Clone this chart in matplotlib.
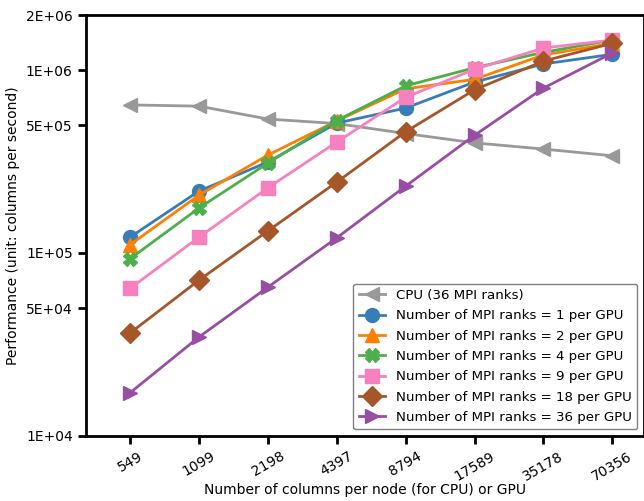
import numpy as np
import matplotlib
matplotlib.use("Agg")
import matplotlib.pyplot as plt
from matplotlib.ticker import FixedLocator, FixedFormatter, NullLocator

# Data
columns = ["549", "1099", "2198", "4397", "8794", "17589", "35178", "70356"]
cpu_36 = [6.45e5, 6.35e5, 5.4e5, 5.1e5, 4.5e5, 4.0e5, 3.7e5, 3.4e5]
gpu_1 = [1.22e5, 2.18e5, 3.14e5, 5.13e5, 6.2e5, 8.6e5, 1.08e6, 1.22e6]
gpu_2 = [1.11e5, 2.07e5, 3.43e5, 5.27e5, 7.9e5, 8.9e5, 1.21e6, 1.40e6]
gpu_4 = [9.3e4, 1.76e5, 3.1e5, 5.3e5, 8.2e5, 1.03e6, 1.25e6, 1.46e6]
gpu_9 = [6.4e4, 1.22e5, 2.27e5, 4.04e5, 7.1e5, 1.01e6, 1.32e6, 1.46e6]
gpu_18 = [3.65e4, 7.1e4, 1.32e5, 2.44e5, 4.6e5, 7.8e5, 1.12e6, 1.40e6]
gpu_36 = [1.72e4, 3.47e4, 6.5e4, 1.21e5, 2.32e5, 4.4e5, 7.97e5, 1.24e6]

series = [
    ("CPU (36 MPI ranks)", cpu_36, "#999999", "<"),
    ("Number of MPI ranks = 1 per GPU", gpu_1, "#377eb8", "o"),
    ("Number of MPI ranks = 2 per GPU", gpu_2, "#ff7f00", "^"),
    ("Number of MPI ranks = 4 per GPU", gpu_4, "#4daf4a", "X"),
    ("Number of MPI ranks = 9 per GPU", gpu_9, "#f781bf", "s"),
    ("Number of MPI ranks = 18 per GPU", gpu_18, "#a65628", "D"),
    ("Number of MPI ranks = 36 per GPU", gpu_36, "#984ea3", ">"),
]

fig = plt.figure(figsize=(6.44, 5.01), dpi=100)
ax = fig.add_axes([0.1335, 0.130, 0.8665, 0.840])

x = np.arange(len(columns))
for label, vals, color, marker in series:
    ax.plot(x, vals, color=color, marker=marker, markersize=10, linewidth=2, label=label)

ax.set_yscale("log")
ax.set_ylim(1e4, 2e6)
yt = [1e4, 5e4, 1e5, 5e5, 1e6, 2e6]
ax.yaxis.set_major_locator(FixedLocator(yt))
ax.yaxis.set_major_formatter(FixedFormatter(["1E+04", "5E+04", "1E+05", "5E+05", "1E+06", "2E+06"]))
ax.yaxis.set_minor_locator(NullLocator())

ax.set_xlim(-0.64, 7.46)
ax.set_xticks(x)
ax.set_xticklabels(columns, rotation=30)

ax.set_xlabel("Number of columns per node (for CPU) or GPU", fontsize=10, labelpad=0)
ax.set_ylabel("Performance (unit: columns per second)", fontsize=10)
ax.tick_params(axis="both", labelsize=10, width=2, length=6)
for spine in ax.spines.values():
    spine.set_linewidth(2)

ax.legend(loc="lower right", fontsize=9.6, framealpha=1, edgecolor="gray",
          borderaxespad=0.5, labelspacing=0.55)

plt.savefig("out.png", dpi=100)
